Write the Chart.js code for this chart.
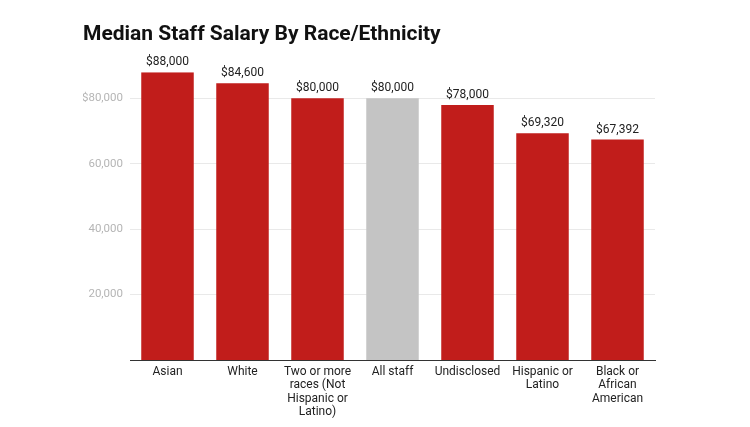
<!DOCTYPE html>
<html>
<head>
<meta charset="utf-8">
<script src="https://cdn.jsdelivr.net/npm/chart.js@4.4.1/dist/chart.umd.min.js"></script>
<style>
  html, body { margin: 0; padding: 0; background: #fff; }
  #wrap { width: 750px; height: 427px; }
</style>
</head>
<body>
<div id="wrap"><canvas id="chart"></canvas></div>
<script>
// Median staff salary by race/ethnicity
const categories = [
    'Asian',
    'White',
    ['Two or more', 'races (Not', 'Hispanic or', 'Latino)'],
    'All staff',
    'Undisclosed',
    ['Hispanic or', 'Latino'],
    ['Black or', 'African', 'American']
];
const salaries = [88000, 84600, 80000, 80000, 78000, 69320, 67392];
const barColors = ['#c11d1b', '#c11d1b', '#c11d1b', '#c4c4c4', '#c11d1b', '#c11d1b', '#c11d1b'];
const yTicks = [20000, 40000, 60000, 80000];
const yTickLabels = ['20,000', '40,000', '60,000', '$80,000'];

// Value labels above each bar
const barLabels = {
    id: 'barLabels',
    afterDatasetsDraw(chart) {
        const ctx = chart.ctx;
        const meta = chart.getDatasetMeta(0);
        ctx.save();
        ctx.font = '12px Roboto';
        ctx.fillStyle = '#222';
        ctx.textAlign = 'center';
        ctx.textBaseline = 'bottom';
        meta.data.forEach((bar, i) => {
            ctx.fillText('$' + salaries[i].toLocaleString('en-US'), bar.x, bar.y - 4);
        });
        ctx.restore();
    }
};

new Chart(document.getElementById('chart'), {
    type: 'bar',
    data: {
        labels: categories,
        datasets: [{
            data: salaries,
            backgroundColor: barColors,
            borderWidth: 0,
            barPercentage: 0.7,
            categoryPercentage: 1
        }]
    },
    options: {
        responsive: true,
        maintainAspectRatio: false,
        animation: false,
        layout: { padding: { top: 22, left: 83, right: 95, bottom: 0 } },
        plugins: {
            legend: { display: false },
            tooltip: { enabled: false },
            title: {
                display: true,
                text: 'Median Staff Salary By Race/Ethnicity',
                align: 'start',
                color: '#111',
                font: { family: 'Roboto', size: 21, weight: 'bold', lineHeight: 1.2 },
                padding: { top: 0, bottom: 25 }
            }
        },
        scales: {
            x: {
                grid: { display: false, drawTicks: false },
                border: { display: true, color: '#333', width: 1 },
                ticks: {
                    color: '#222',
                    font: { family: 'Roboto', size: 12, lineHeight: 1.13 },
                    padding: 5,
                    maxRotation: 0,
                    autoSkip: false
                },
                afterFit(scale) { scale.height = 67; }
            },
            y: {
                min: 0,
                max: 88000,
                afterBuildTicks(scale) {
                    scale.ticks = yTicks.map(v => ({ value: v }));
                },
                grid: { color: '#e9e9e9', drawTicks: false },
                border: { display: false },
                ticks: {
                    color: '#b5b5b5',
                    font: { family: 'Roboto', size: 11.5 },
                    padding: 7,
                    callback: (value) => yTickLabels[yTicks.indexOf(value)]
                },
                afterFit(scale) { scale.width = 47; }
            }
        }
    },
    plugins: [barLabels]
});
</script>
</body>
</html>
